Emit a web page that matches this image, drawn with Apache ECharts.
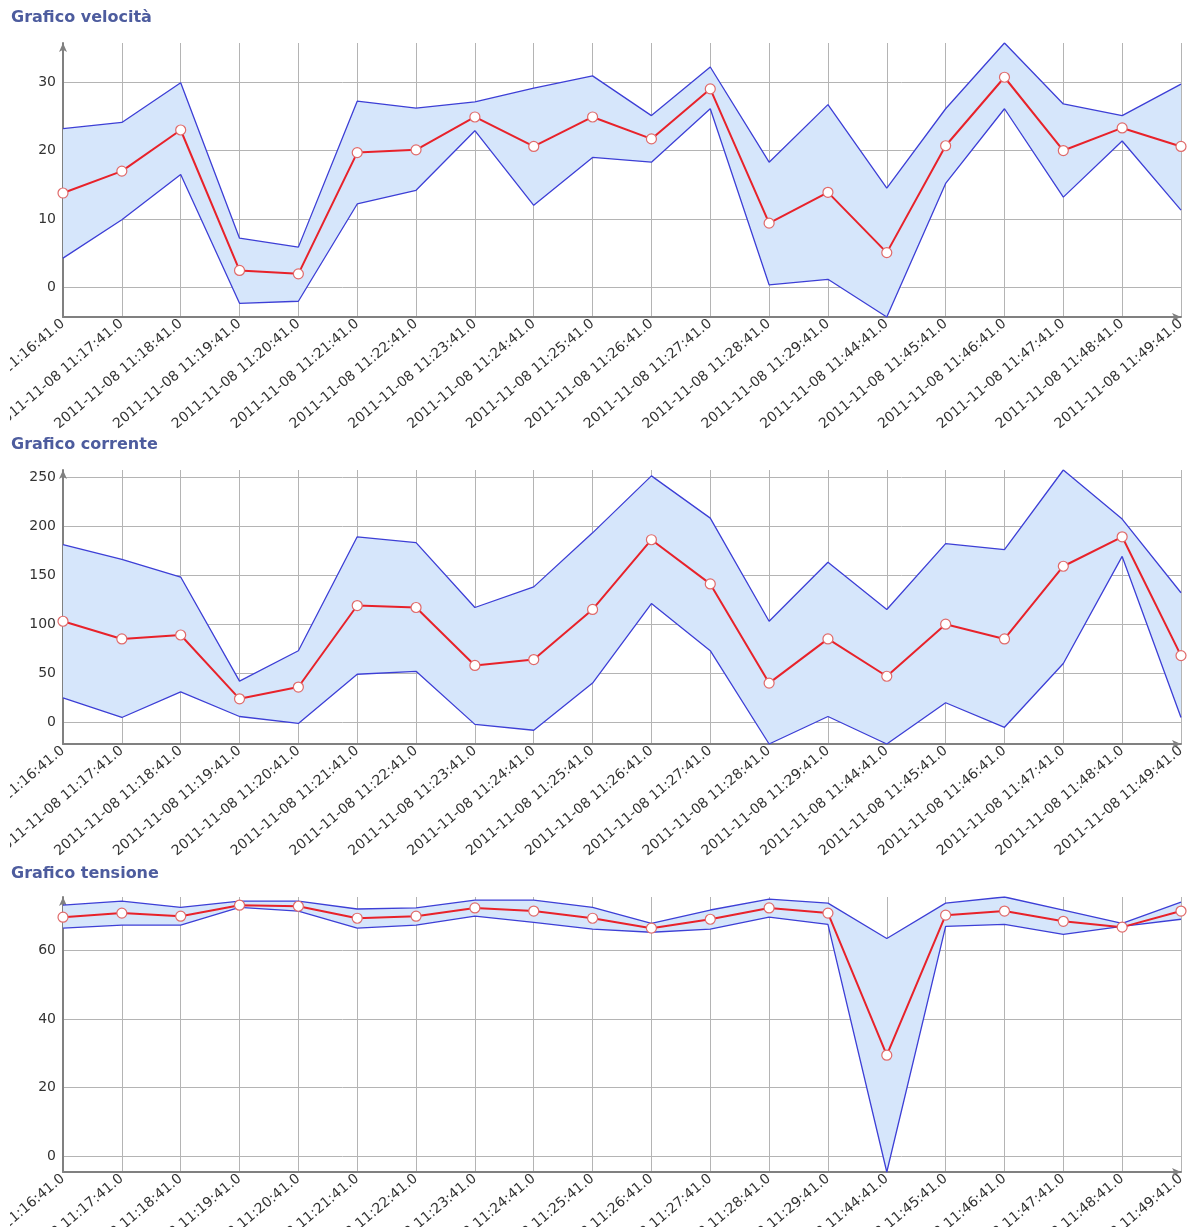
<!DOCTYPE html>
<html>
<head>
<meta charset="utf-8">
<script src="https://cdn.jsdelivr.net/npm/echarts@6/dist/echarts.min.js"></script>
<style>
html,body{margin:0;padding:0;background:#fff;width:1188px;height:1227px;overflow:hidden;}
.c{position:absolute;left:10px;width:1178px;overflow:hidden;}
</style>
</head>
<body>
<div id="c1" class="c" style="top:0;height:430px"></div>
<div id="c2" class="c" style="top:430px;height:428px"></div>
<div id="c3" class="c" style="top:858px;height:369px"></div>
<script>
const categories = [
  "2011-11-08 11:16:41.0","2011-11-08 11:17:41.0","2011-11-08 11:18:41.0","2011-11-08 11:19:41.0",
  "2011-11-08 11:20:41.0","2011-11-08 11:21:41.0","2011-11-08 11:22:41.0","2011-11-08 11:23:41.0",
  "2011-11-08 11:24:41.0","2011-11-08 11:25:41.0","2011-11-08 11:26:41.0","2011-11-08 11:27:41.0",
  "2011-11-08 11:28:41.0","2011-11-08 11:29:41.0","2011-11-08 11:44:41.0","2011-11-08 11:45:41.0",
  "2011-11-08 11:46:41.0","2011-11-08 11:47:41.0","2011-11-08 11:48:41.0","2011-11-08 11:49:41.0"
];

// Grafico velocità
const velUpper = [23.2,24.1,29.9,7.2,5.9,27.2,26.2,27.1,29.1,30.9,25.1,32.2,18.3,26.7,14.5,26.1,35.7,26.8,25.1,29.7];
const velMean  = [13.8,17.0,23.0,2.5,2.0,19.7,20.1,24.9,20.6,24.9,21.7,29.0,9.4,13.9,5.1,20.7,30.7,20.0,23.3,20.6];
const velLower = [4.3,9.9,16.5,-2.3,-2.0,12.2,14.2,22.9,12.0,19.0,18.3,26.1,0.4,1.2,-4.3,15.2,26.1,13.2,21.4,11.3];

// Grafico corrente
const curUpper = [181,166,148,42,73,189,183,117,138,193,251,208,103,163,115,182,176,257,207,132];
const curMean  = [103,85,89,24,36,119,117,58,64,115,186,141,40,85,47,100,85,159,189,68];
const curLower = [25,5,31,6,-1,49,52,-2,-8,40,121,73,-22,6,-22,20,-5,60,169,5];

// Grafico tensione
const tenUpper = [73.2,74.4,72.6,74.4,74.4,72.1,72.4,74.7,74.7,72.6,67.9,71.8,75.0,73.8,63.5,73.8,75.6,71.8,67.9,74.1];
const tenMean  = [69.7,70.9,70.0,73.2,72.9,69.4,70.0,72.4,71.5,69.4,66.5,69.1,72.4,70.9,29.4,70.3,71.5,68.5,66.8,71.5];
const tenLower = [66.5,67.4,67.4,72.6,71.5,66.5,67.4,70.0,68.2,66.2,65.3,66.2,69.7,67.6,-4.7,67.0,67.6,64.7,67.0,69.1];

const titles = ["Grafico velocità","Grafico corrente","Grafico tensione"];

function build(el, title, upper, mean, lower, gridTop, gridBottom, titleTop) {
  const chart = echarts.init(document.getElementById(el), null, {renderer:'canvas'});
  const diff = upper.map((u,i)=> +(u - lower[i]).toFixed(3));
  const yMin = Math.min(...lower), yMax = Math.max(...upper);
  const blue = '#3d3fd6';
  chart.setOption({
    animation:false,
    title:{text:title,left:1,top:titleTop,padding:0,textStyle:{fontFamily:'DejaVu Sans',fontSize:16,fontWeight:'bold',color:'#4d5c9e'}},
    grid:{left:53,right:7,top:gridTop,bottom:gridBottom,containLabel:false,outerBoundsMode:'none'},
    xAxis:{
      type:'category',data:categories,boundaryGap:false,
      axisLine:{show:true,onZero:false,symbol:['none','arrow'],symbolSize:[6,9],lineStyle:{color:'#808080',width:2}},
      axisTick:{show:false},
      axisLabel:{interval:0,rotate:40,margin:5,fontFamily:'DejaVu Sans',fontSize:14,color:'#333'},
      splitLine:{show:true,lineStyle:{color:'#b4b4b4',width:1}}
    },
    yAxis:{
      type:'value',min:yMin,max:yMax,splitNumber:5,
      axisLine:{show:true,onZero:false,symbol:['none','arrow'],symbolSize:[6,9],lineStyle:{color:'#808080',width:2}},
      axisTick:{show:false},
      axisLabel:{showMinLabel:false,showMaxLabel:false,margin:7,fontFamily:'DejaVu Sans',fontSize:14,color:'#333'},
      splitLine:{show:true,showMinLine:false,showMaxLine:false,lineStyle:{color:'#b4b4b4',width:1}}
    },
    series:[
      {type:'line',data:lower,stack:'band',stackStrategy:'all',symbol:'none',lineStyle:{color:blue,width:1.3},z:2},
      {type:'line',data:diff,stack:'band',stackStrategy:'all',symbol:'none',lineStyle:{color:blue,width:1.3},areaStyle:{color:'#d6e6fb',opacity:1},z:2},
      {type:'line',data:mean,symbol:'circle',symbolSize:10,lineStyle:{color:'#e8222a',width:2},itemStyle:{color:'#ffffff',borderColor:'#e06a6a',borderWidth:1.2},z:3}
    ]
  });
}

build('c1', titles[0], velUpper, velMean, velLower, 43, 113, 10);
build('c2', titles[1], curUpper, curMean, curLower, 40, 114, 7);
build('c3', titles[2], tenUpper, tenMean, tenLower, 39, 55, 8);
</script>
</body>
</html>
